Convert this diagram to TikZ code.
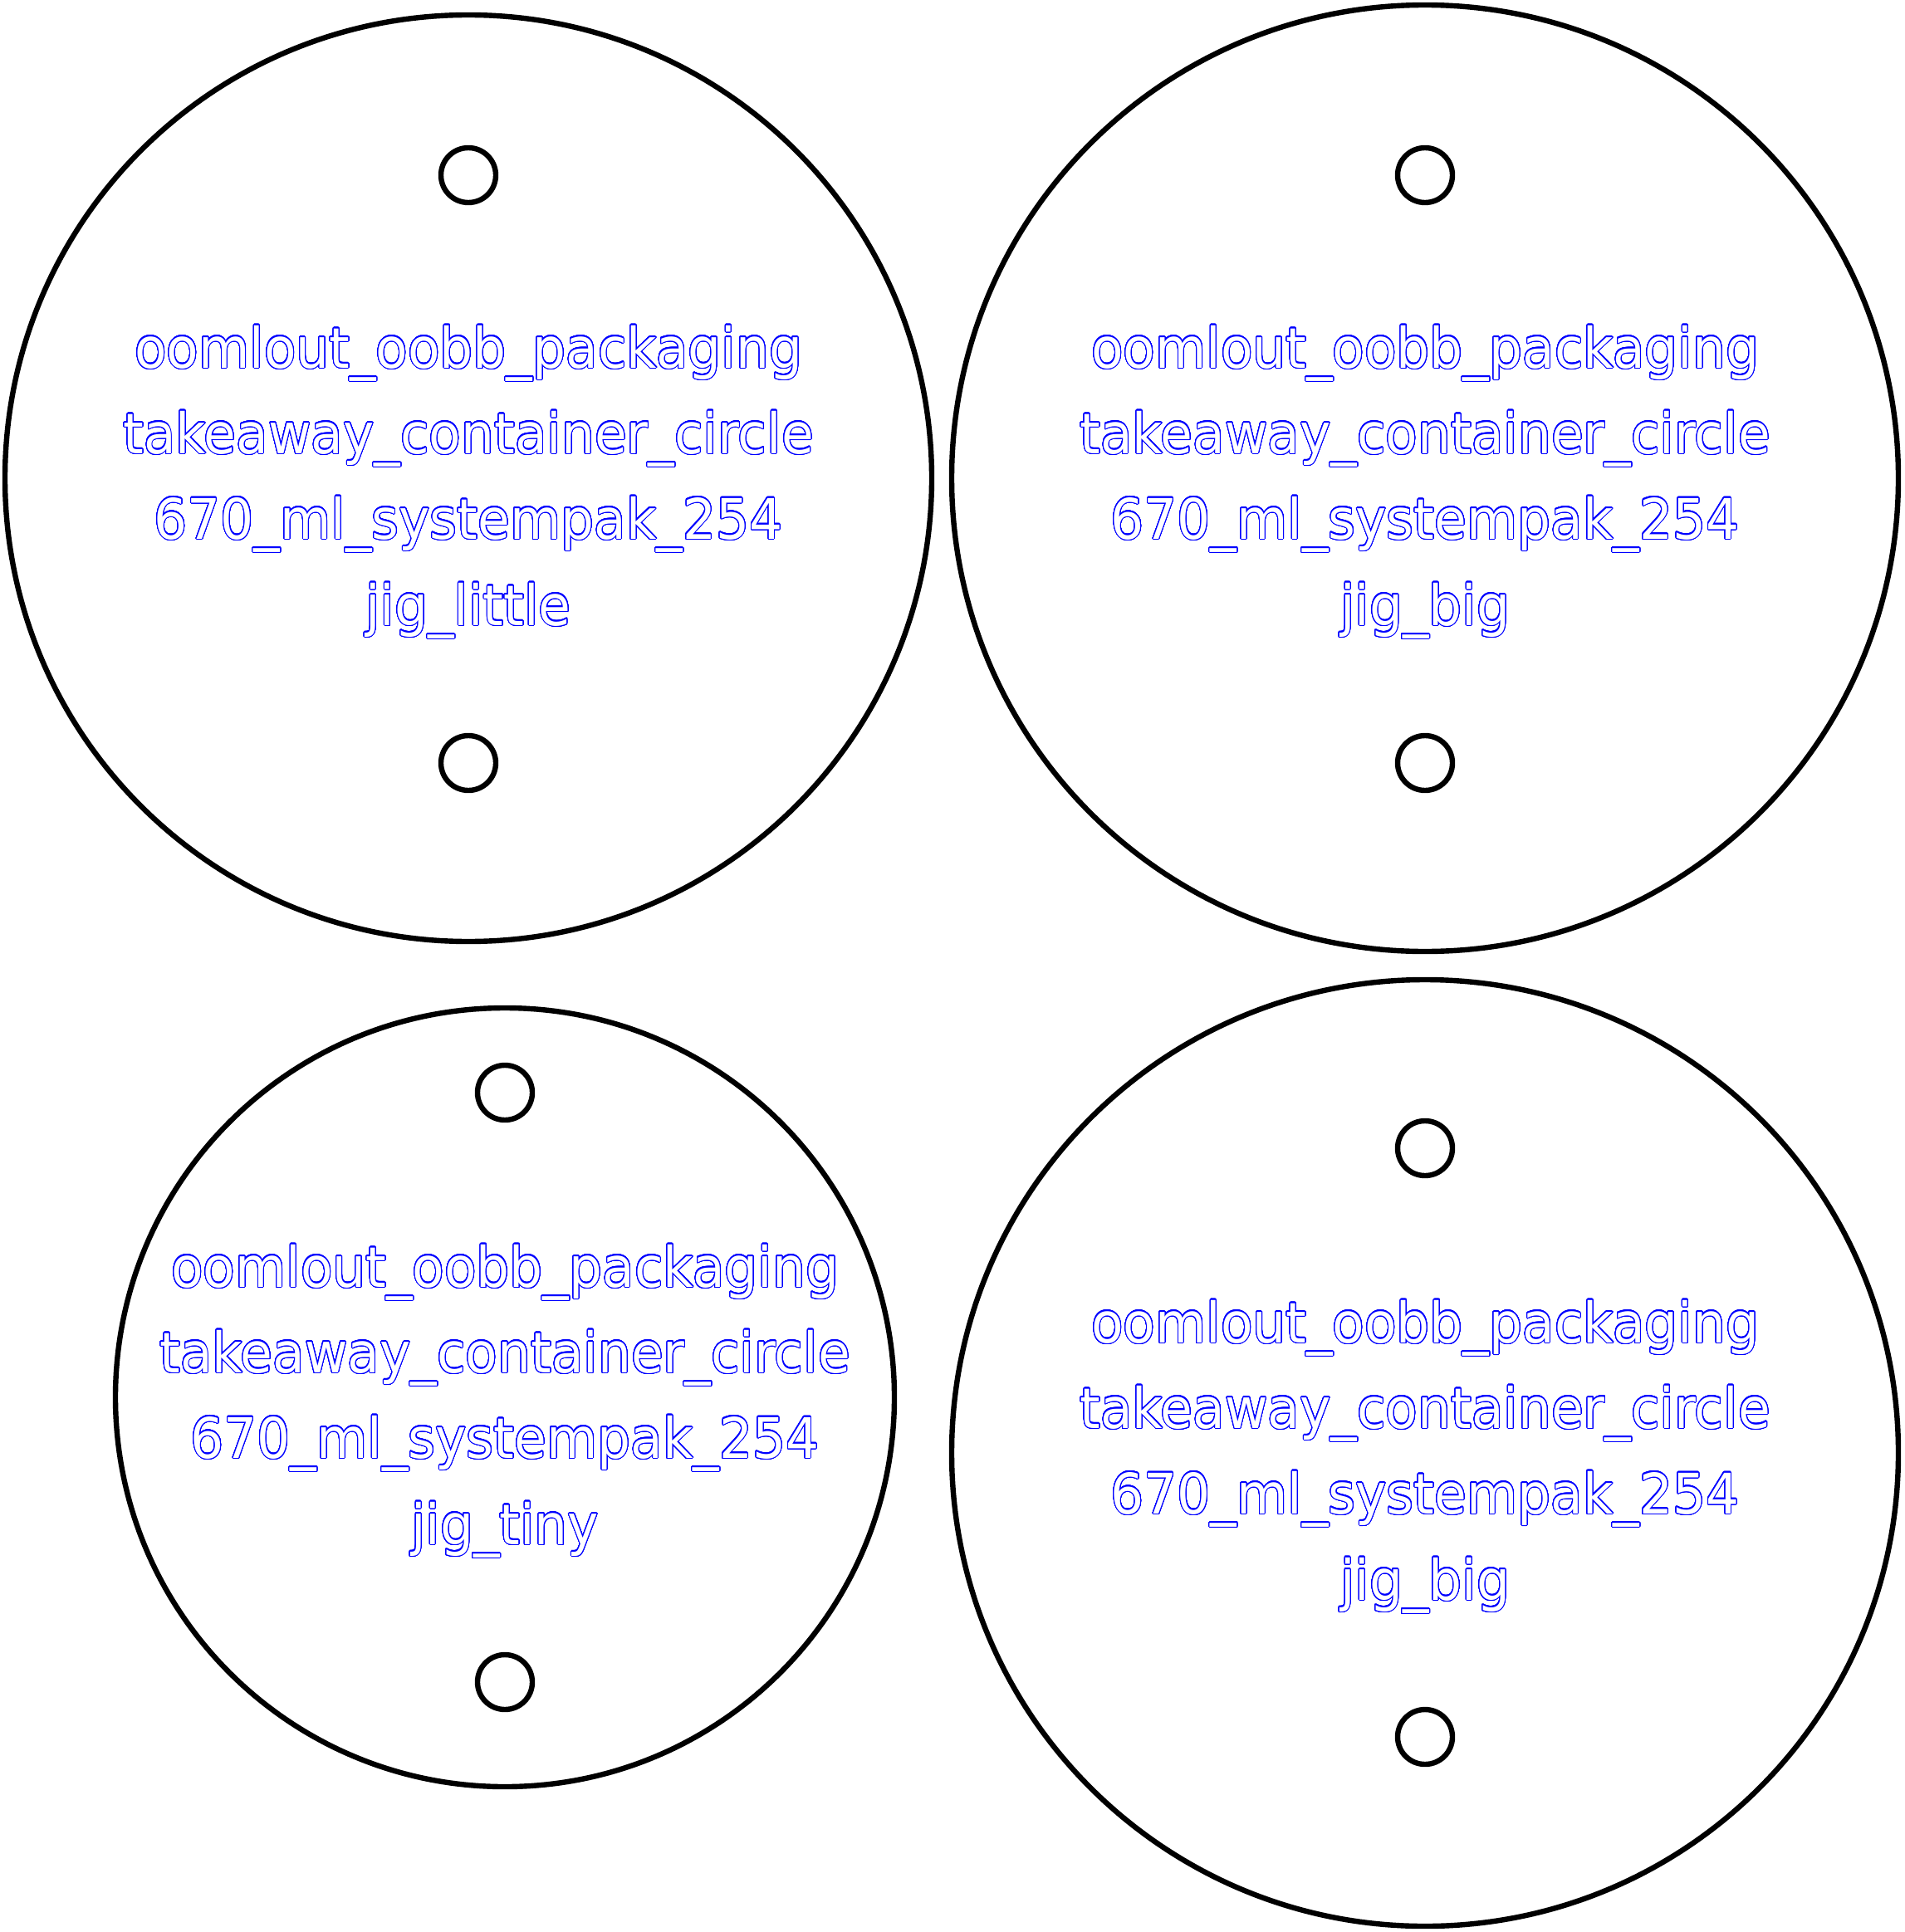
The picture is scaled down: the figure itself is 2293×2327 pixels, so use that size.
\documentclass[tikz,border=0pt]{standalone}
\usepackage{fontspec}
\usepackage{contour}
\usepackage{graphicx}
\contourlength{0.5pt}
\contournumber{48}
\newfontfamily\lbfont{DejaVu Sans}
\newcommand\lbltext[1]{\scalebox{1}[1.07]{\contour{blue}{\textcolor{white}{#1}}}}
\tikzset{
  plate/.style={circle, draw=black, line width=3.2pt, inner sep=0pt, minimum size=#1},
  hole/.style={circle, draw=black, line width=3.2pt, inner sep=0pt, minimum size=33pt},
  lbl/.style={anchor=base, inner sep=0pt,
    font=\lbfont\fontsize{31.5pt}{52pt}\selectfont}
}
\begin{document}
\begin{tikzpicture}[x=0.5pt,y=-0.5pt]
\useasboundingbox (0,0) rectangle (2293,2327);
% plates
\node[plate=558pt] (p1) at (564,576) {};
\node[plate=570pt] (p2) at (1716,576) {};
\node[plate=469pt] (p3) at (608,1683) {};
\node[plate=570pt] (p4) at (1716,1750) {};
% holes
\node[hole] (h1a) at (564,211) {};
\node[hole] (h1b) at (564,919) {};
\node[hole] (h2a) at (1716,211) {};
\node[hole] (h2b) at (1716,919) {};
\node[hole] (h3a) at (608,1316) {};
\node[hole] (h3b) at (608,2026) {};
\node[hole] (h4a) at (1716,1383) {};
\node[hole] (h4b) at (1716,2092) {};
% labels
\node[lbl] (t1a) at (564,443) {\lbltext{oomlout\_oobb\_packaging}};
\node[lbl] (t1b) at (564,546) {\lbltext{takeaway\_container\_circle}};
\node[lbl] (t1c) at (564,649) {\lbltext{670\_ml\_systempak\_254}};
\node[lbl] (t1d) at (564,753) {\lbltext{jig\_little}};
\node[lbl] (t2a) at (1716,443) {\lbltext{oomlout\_oobb\_packaging}};
\node[lbl] (t2b) at (1716,546) {\lbltext{takeaway\_container\_circle}};
\node[lbl] (t2c) at (1716,649) {\lbltext{670\_ml\_systempak\_254}};
\node[lbl] (t2d) at (1716,753) {\lbltext{jig\_big}};
\node[lbl] (t3a) at (608,1550) {\lbltext{oomlout\_oobb\_packaging}};
\node[lbl] (t3b) at (608,1653) {\lbltext{takeaway\_container\_circle}};
\node[lbl] (t3c) at (608,1756) {\lbltext{670\_ml\_systempak\_254}};
\node[lbl] (t3d) at (608,1860) {\lbltext{jig\_tiny}};
\node[lbl] (t4a) at (1716,1617) {\lbltext{oomlout\_oobb\_packaging}};
\node[lbl] (t4b) at (1716,1720) {\lbltext{takeaway\_container\_circle}};
\node[lbl] (t4c) at (1716,1823) {\lbltext{670\_ml\_systempak\_254}};
\node[lbl] (t4d) at (1716,1927) {\lbltext{jig\_big}};
\end{tikzpicture}
\end{document}
